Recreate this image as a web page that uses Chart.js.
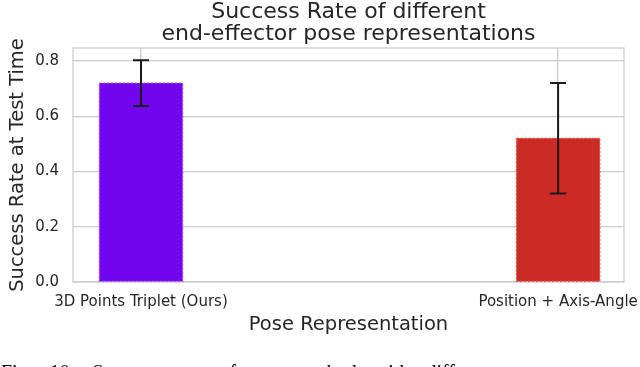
<!DOCTYPE html>
<html lang="en">
  <head>
    <meta charset="UTF-8" />
    <title>Success Rate</title>
    <script src="https://cdn.jsdelivr.net/npm/chart.js"></script>
    <style>
      body { margin: 0; background: #fff; }
    </style>
  </head>
  <body>
    <canvas id="rateChart" width="640" height="367"></canvas>

    <script>
      // values
      const labels = ["3D Points Triplet (Ours)", "Position + Axis-Angle"];
      const successRate = [0.72, 0.52];
      const errorSize = [0.083, 0.2];
      const barColors = ["#7106ee", "#cc2a24"];
      const edgeColors = ["#a452ff", "#e5504a"];
      const yTicks = [0, 0.2, 0.4, 0.6, 0.8];
      const titleLines = ["Success Rate of different", "end-effector pose representations"];
      const caption = "Fig. 10: Success rate of our method with different";

      const textColor = "#262626";
      const gridColor = "#cccccc";
      Chart.defaults.font.family = "'DejaVu Sans', sans-serif";
      Chart.defaults.color = textColor;

      // frame, dotted bar edges, error bars, title and caption
      const extras = {
        id: "extras",
        beforeDatasetsDraw(chart) {
          const { ctx, chartArea: a } = chart;
          ctx.save();
          ctx.strokeStyle = gridColor;
          ctx.lineWidth = 1.3;
          ctx.strokeRect(a.left, a.top, a.right - a.left, a.bottom - a.top);
          ctx.restore();
        },
        afterDatasetsDraw(chart) {
          const { ctx, scales } = chart;
          const bars = chart.getDatasetMeta(0).data;
          ctx.save();
          bars.forEach((bar, i) => {
            // dotted outline
            ctx.setLineDash([2, 2]);
            ctx.strokeStyle = edgeColors[i];
            ctx.lineWidth = 1.2;
            ctx.strokeRect(bar.x - bar.width / 2, bar.y, bar.width, bar.base - bar.y);
            ctx.setLineDash([]);
            // error bar
            const top = scales.y.getPixelForValue(successRate[i] + errorSize[i]);
            const bot = scales.y.getPixelForValue(successRate[i] - errorSize[i]);
            ctx.strokeStyle = "#1a1a1a";
            ctx.lineWidth = 2;
            ctx.beginPath();
            ctx.moveTo(bar.x, top);
            ctx.lineTo(bar.x, bot);
            ctx.moveTo(bar.x - 8, top);
            ctx.lineTo(bar.x + 8, top);
            ctx.moveTo(bar.x - 8, bot);
            ctx.lineTo(bar.x + 8, bot);
            ctx.stroke();
          });
          ctx.restore();
        },
        afterDraw(chart) {
          const { ctx, chartArea: a } = chart;
          const cx = (a.left + a.right) / 2;
          ctx.save();
          ctx.fillStyle = textColor;
          ctx.textAlign = "center";
          ctx.textBaseline = "alphabetic";
          ctx.font = "22px 'DejaVu Sans'";
          ctx.fillText(titleLines[0], cx, 18);
          ctx.fillText(titleLines[1], cx, 40);
          // caption of the paper, cut off by the image edge
          ctx.fillStyle = "#000";
          ctx.textAlign = "left";
          ctx.font = "20px 'Liberation Serif'";
          ctx.wordSpacing = "12px";
          ctx.fillText(caption, 1, 379);
          ctx.restore();
        },
      };

      const ctx = document.getElementById("rateChart").getContext("2d");
      const rateChart = new Chart(ctx, {
        type: "bar",
        data: {
          datasets: [
            {
              data: successRate.map((v, i) => ({ x: i, y: v })),
              backgroundColor: barColors,
              borderWidth: 0,
              categoryPercentage: 1,
              barPercentage: 0.2,
            },
          ],
        },
        options: {
          responsive: false,
          animation: false,
          layout: { padding: { top: 48, right: 16, left: 0, bottom: 0 } },
          plugins: {
            legend: { display: false },
            tooltip: { enabled: false },
          },
          scales: {
            x: {
              type: "linear",
              offset: false,
              min: -0.163,
              max: 1.158,
              afterBuildTicks: (scale) => {
                scale.ticks = labels.map((_, i) => ({ value: i }));
              },
              afterFit: (scale) => {
                scale.height = 85;
                scale.paddingLeft = 0;
                scale.paddingRight = 0;
              },
              ticks: {
                font: { size: 15 },
                padding: 11,
                maxRotation: 0,
                autoSkip: false,
                callback: (v) => labels[v],
              },
              grid: { color: gridColor, lineWidth: 1.3, drawTicks: false, offset: false },
              border: { display: false },
              title: {
                display: true,
                text: "Pose Representation",
                font: { size: 19.5 },
                padding: { top: 0, bottom: 30 },
              },
            },
            y: {
              min: 0,
              max: 0.847,
              afterBuildTicks: (scale) => {
                scale.ticks = yTicks.map((v) => ({ value: v }));
              },
              afterFit: (scale) => {
                scale.width = 73;
                scale.paddingTop = 0;
                scale.paddingBottom = 0;
              },
              ticks: {
                font: { size: 15 },
                padding: 14,
                callback: (v) => v.toFixed(1),
              },
              grid: { color: gridColor, lineWidth: 1.3, drawTicks: false },
              border: { display: false },
              title: {
                display: true,
                text: "Success Rate at Test Time",
                font: { size: 19.5 },
                padding: { top: 6, bottom: 0 },
              },
            },
          },
        },
        plugins: [extras],
      });
    </script>
  </body>
</html>
